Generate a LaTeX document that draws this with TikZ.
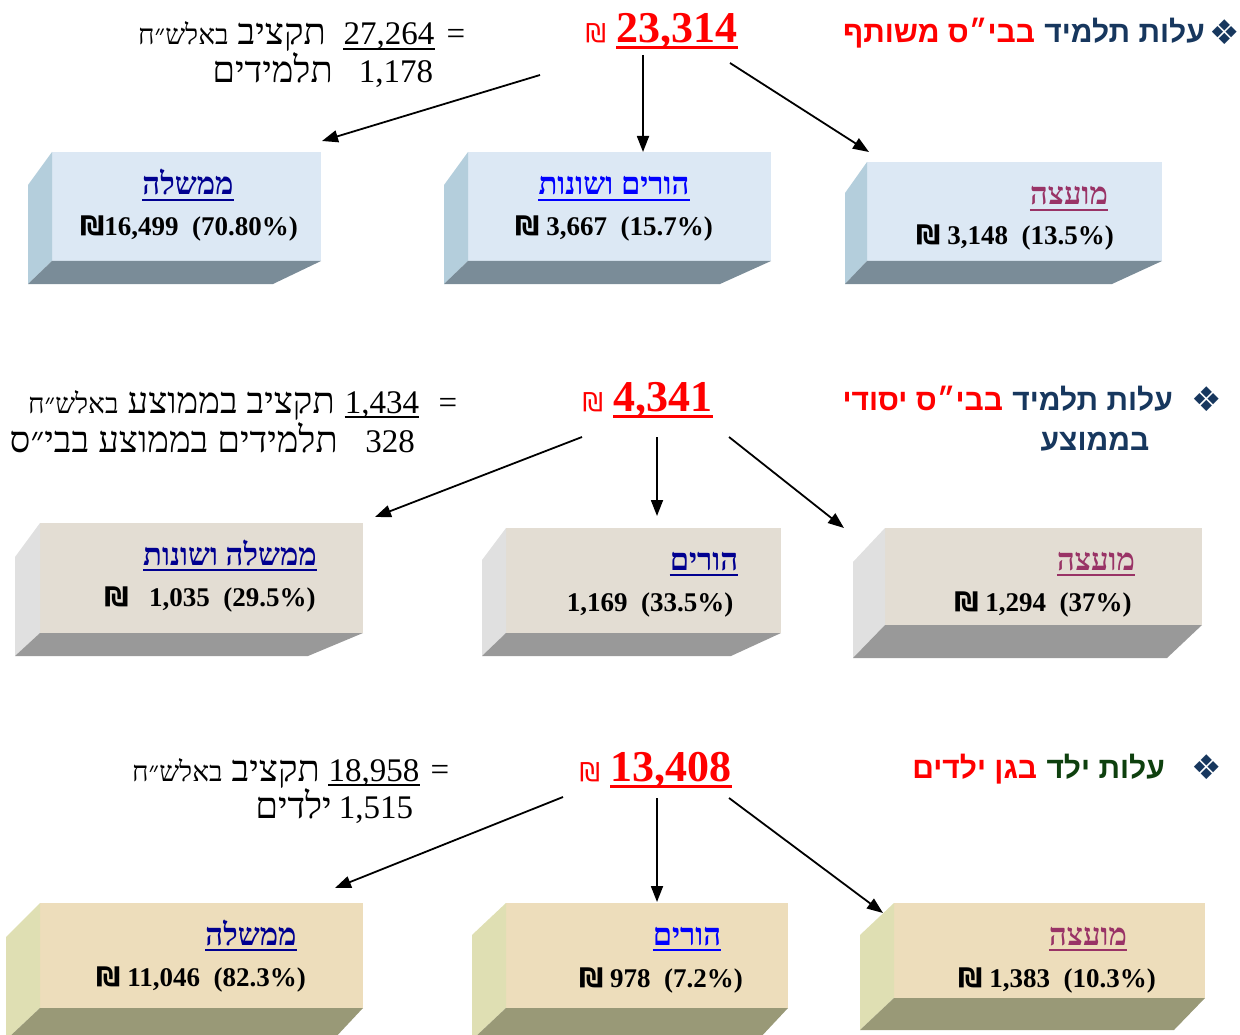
\documentclass[tikz,border=0pt]{standalone}
\usepackage{fontspec}
\setmainfont{Liberation Serif}
\newfontfamily\hebserif[Script=Hebrew]{Liberation Serif}
\newfontfamily\hebsans[Script=Hebrew]{Liberation Sans}
\newfontfamily\symfont{DejaVu Sans}
\TeXXeTstate=1
\usetikzlibrary{arrows.meta,positioning}
\definecolor{titlenavy}{HTML}{17375E}
\definecolor{titlegreen}{HTML}{0E400E}
\definecolor{lblnavy}{HTML}{000090}
\definecolor{lblpurple}{HTML}{993366}
\definecolor{iceF}{HTML}{DCE8F4}\definecolor{iceS}{HTML}{B4CEDC}\definecolor{iceB}{HTML}{7A8C98}
\definecolor{stoneF}{HTML}{E3DDD3}\definecolor{stoneS}{HTML}{E0E0E0}\definecolor{stoneB}{HTML}{999999}
\definecolor{sandF}{HTML}{EDDDBB}\definecolor{sandS}{HTML}{DFDFB3}\definecolor{sandB}{HTML}{999977}
\newcommand\shek{{\symfont\bfseries ₪}}
\newcommand\smallnote{\fontsize{28}{32}\selectfont}
\begin{document}
\begin{tikzpicture}[x=1pt,y=-1pt,line join=round,>={Triangle[length=16pt,width=12pt]},inner sep=0pt]
\tikzset{arr/.style={->,line width=1.8pt},
	title/.style={font=\hebsans\bfseries\fontsize{30}{36}\selectfont,anchor=base east},
	total/.style={font=\bfseries\fontsize{44}{50}\selectfont,text=red,anchor=base},
	nis/.style={font=\symfont\fontsize{26}{30}\selectfont,text=red,anchor=base east},
	note/.style={font=\hebserif\fontsize{33}{38}\selectfont,anchor=base},
	hnote/.style={font=\hebserif\fontsize{36.5}{40}\selectfont,anchor=base east},
	lab/.style={font=\hebserif\bfseries\fontsize{31}{36}\selectfont,anchor=base},
	val/.style={font=\bfseries\fontsize{27}{32}\selectfont,anchor=base},
	bullet/.style={font=\symfont\fontsize{34}{38}\selectfont,text=titlenavy}}
\useasboundingbox (0,0) rectangle (1240,1035);
% boxes: front, side, bottom
\foreach \xl/\xr/\yt/\yb/\w/\h/\r/\dr/\c in {52/321/152/261/24/23/48/33/ice,468/771/152/261/24/23/51/33/ice,867/1162/162/261/22/23/50/31/ice,
	40/363/523/633/25/23/55/34/stone,506/781/528/633/24/23/50/32/stone,885/1202/528/625/32/33/35/34/stone,
	40/363/903/1008/34/32/30/34/sand,506/788/903/1008/34/32/30/32/sand,894/1205/903/998/34/32/31/32/sand}{
	\fill[fill=\c F] (\xl,\yt) rectangle (\xr,\yb);
	\fill[fill=\c S] (\xl,\yt)--(\xl-\w,\yt+\dr)--(\xl-\w,\yb+\h)--(\xl,\yb)--cycle;
	\fill[fill=\c B] (\xl,\yb)--(\xr,\yb)--(\xr-\r,\yb+\h)--(\xl-\w,\yb+\h)--cycle;
}
% top group
\node[bullet] (markA) at (1225,32) {❖};
\node[title,text=titlenavy] (headA) at (1205,43) {\beginR עלות תלמיד\endR};
\node[title,text=red] (headA2) at ([xshift=-9pt]headA.base west) {\beginR בבי״ס משותף\endR};
\node[total] (sumA) at (677,43) {23,314};
\node[nis] (nisA) at ([xshift=-10pt]sumA.base west) {₪};
\node[note] (eqA) at (456,45) {=};
\node[note] (budA) at (389,45) {27,264};
\node[hnote] (txtA) at (326,45) {\beginR תקציב {\smallnote באלש״ח}\endR};
\node[note] (numA) at (396,83) {1,178};
\node[hnote] (pupA) at (333,83) {\beginR תלמידים\endR};
\node[lab,text=lblnavy] (govA) at (188,195) {\beginR ממשלה\endR};
\node[lab,text=blue] (parA) at (614,195) {\beginR הורים ושונות\endR};
\node[lab,text=lblpurple] (locA) at (1069,205) {\beginR מועצה\endR};
\node[val] (vgovA) at (189,236) {\shek16,499~~(70.80\%)};
\node[val] (vparA) at (614,236) {\shek~3,667~~(15.7\%)};
\node[val] (vlocA) at (1015,244) {\shek~3,148~~(13.5\%)};
\coordinate (fromA1) at (540,75); \coordinate (toA1) at (322,141);
\coordinate (fromA2) at (643,55); \coordinate (toA2) at (643,152);
\coordinate (fromA3) at (730,63); \coordinate (toA3) at (869,152);
% middle group
\node[bullet] (markB) at (1207,399) {❖};
\node[title,text=titlenavy] (headB) at (1173,410) {\beginR עלות תלמיד\endR};
\node[title,text=red] (headB2) at ([xshift=-9pt]headB.base west) {\beginR בבי״ס יסודי\endR};
\node[title,text=titlenavy,anchor=base] (headB3) at (1095,450) {\beginR בממוצע\endR};
\node[total] (sumB) at (663,411) {4,341};
\node[nis] (nisB) at ([xshift=-10pt]sumB.base west) {₪};
\node[note] (eqB) at (448,413) {=};
\node[note] (budB) at (382,413) {1,434};
\node[hnote] (txtB) at (335,413) {\beginR תקציב בממוצע {\smallnote באלש״ח}\endR};
\node[note] (numB) at (390,452) {328};
\node[hnote] (pupB) at (338,452) {\beginR תלמידים בממוצע בבי״ס\endR};
\node[lab,text=lblnavy] (govB) at (230,565) {\beginR ממשלה ושונות\endR};
\node[lab,text=lblnavy] (parB) at (704,570) {\beginR הורים\endR};
\node[lab,text=lblpurple] (locB) at (1096,570) {\beginR מועצה\endR};
\node[val] (vgovB) at (210,606) {\shek~~~1,035~~(29.5\%)};
\node[val] (vparB) at (650,611) {1,169~~(33.5\%)};
\node[val] (vlocB) at (1043,611) {\shek~1,294~~(37\%)};
\coordinate (fromB1) at (582,437); \coordinate (toB1) at (375,517);
\coordinate (fromB2) at (657,437); \coordinate (toB2) at (657,516);
\coordinate (fromB3) at (729,437); \coordinate (toB3) at (844,528);
% bottom group
\node[bullet] (markC) at (1207,767) {❖};
\node[title,text=titlegreen] (headC) at (1165,778) {\beginR עלות ילד\endR};
\node[title,text=red] (headC2) at ([xshift=-9pt]headC.base west) {\beginR בגן ילדים\endR};
\node[total] (sumC) at (671,781) {13,408};
\node[nis] (nisC) at ([xshift=-10pt]sumC.base west) {₪};
\node[note] (eqC) at (440,780) {=};
\node[note] (budC) at (374,781) {18,958};
\node[hnote] (txtC) at (320,781) {\beginR תקציב {\smallnote באלש״ח}\endR};
\node[note] (numC) at (376,818) {1,515};
\node[hnote] (pupC) at (332,818) {\beginR ילדים\endR};
\node[lab,text=lblnavy] (govC) at (251,945) {\beginR ממשלה\endR};
\node[lab,text=blue] (parC) at (687,945) {\beginR הורים\endR};
\node[lab,text=lblpurple] (locC) at (1088,945) {\beginR מועצה\endR};
\node[val] (vgovC) at (201,986) {\shek~11,046~~(82.3\%)};
\node[val] (vparC) at (661,987) {\shek~978~~(7.2\%)};
\node[val] (vlocC) at (1057,987) {\shek~1,383~~(10.3\%)};
\coordinate (fromC1) at (563,797); \coordinate (toC1) at (335,888);
\coordinate (fromC2) at (657,798); \coordinate (toC2) at (657,902);
\coordinate (fromC3) at (729,798); \coordinate (toC3) at (883,913);
% arrows
\foreach \g in {A,B,C}{\foreach \i in {1,2,3}{\draw[arr] (from\g\i) -- (to\g\i);}}
% underlines
\foreach \n/\c/\t/\d in {sumA/red/3/5,sumB/red/3/5,sumC/red/3/5,budA/black/1.8/4,budB/black/1.8/4,budC/black/1.8/4,
	govA/lblnavy/1.5/5,parA/blue/1.5/5,locA/lblpurple/1.5/5,govB/lblnavy/1.5/5,parB/lblnavy/1.5/5,locB/lblpurple/1.5/5,
	govC/lblnavy/1.5/5,parC/blue/1.5/5,locC/lblpurple/1.5/5}
	\draw[\c,line width=\t pt] ([yshift=-\d pt]\n.base west) -- ([yshift=-\d pt]\n.base east);
\end{tikzpicture}
\end{document}
